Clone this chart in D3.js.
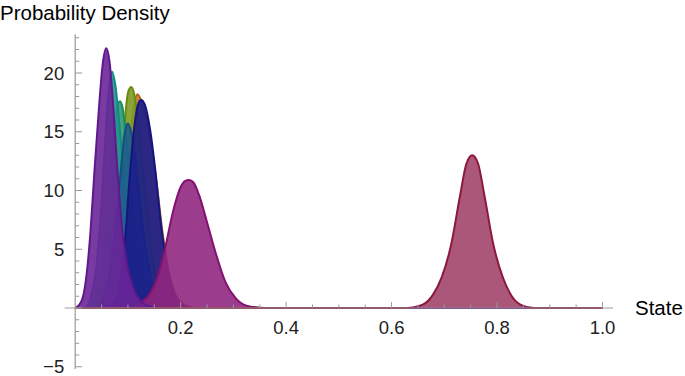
<!DOCTYPE html>
<html>
<head>
<meta charset="utf-8">
<script src="https://cdn.jsdelivr.net/npm/d3@7"></script>
<style>
  body { margin: 0; background: #fff; }
  svg { font-family: "Liberation Sans", Arial, sans-serif; }
  .tick-label { font-size: 18.5px; fill: #222; }
  .axis-title { font-size: 20.5px; fill: #000; }
</style>
</head>
<body>
<svg id="chart" width="685" height="376"></svg>
<script>
// density curves, [state, density]
var orangeCurve = [[0, 0], [0.055, 0], [0.07, 0.5], [0.08, 2], [0.09, 6], [0.1, 12], [0.108, 16], [0.118, 18.2], [0.13, 17], [0.142, 14.5], [0.152, 11.5], [0.167, 6], [0.178, 3], [0.19, 1.2], [0.207, 0.3], [0.228, 0], [1, 0]];
var oliveCurve = [[0, 0], [0.045, 0], [0.06, 0.8], [0.07, 2.5], [0.08, 6], [0.088, 11], [0.095, 16.3], [0.1, 18.3], [0.106, 18.8], [0.112, 18.2], [0.12, 15.5], [0.13, 11], [0.14, 6.5], [0.15, 3.2], [0.162, 1.2], [0.178, 0.2], [0.195, 0], [1, 0]];
var greenCurve = [[0, 0], [0.03, 0], [0.04, 0.8], [0.05, 3], [0.06, 7.5], [0.068, 12], [0.076, 16], [0.081, 17.4], [0.085, 17.6], [0.09, 17], [0.098, 14], [0.107, 9.5], [0.117, 5], [0.128, 2.2], [0.14, 0.7], [0.155, 0.1], [0.17, 0], [1, 0]];
var tealCurve = [[0, 0], [0.02, 0], [0.03, 1], [0.04, 3.5], [0.05, 9], [0.058, 15], [0.064, 18.8], [0.07, 20.1], [0.076, 19], [0.085, 15], [0.095, 9.5], [0.105, 5], [0.118, 1.8], [0.133, 0.4], [0.15, 0], [1, 0]];
var steelCurve = [[0, 0], [0.04, 0], [0.055, 1], [0.065, 3], [0.075, 6.5], [0.085, 11], [0.093, 14.6], [0.1, 15.7], [0.107, 14.8], [0.117, 11.5], [0.128, 7], [0.14, 3.3], [0.153, 1.1], [0.172, 0], [1, 0]];
var navyCurve = [[0, 0], [0.06, 0], [0.075, 0.5], [0.085, 2], [0.095, 6], [0.103, 11], [0.112, 15.4], [0.119, 17.3], [0.125, 17.7], [0.132, 17.3], [0.142, 15.2], [0.152, 11.7], [0.163, 7], [0.174, 3.6], [0.186, 1.4], [0.202, 0.3], [0.222, 0], [1, 0]];
var magentaCurve = [[0, 0], [0.1, 0], [0.12, 0.35], [0.14, 1.1], [0.155, 2.5], [0.17, 5], [0.186, 8.3], [0.2, 10.3], [0.208, 10.8], [0.216, 10.9], [0.224, 10.7], [0.235, 9.6], [0.25, 7.3], [0.267, 4.6], [0.285, 2.2], [0.305, 0.8], [0.325, 0.2], [0.35, 0.03], [0.37, 0], [1, 0]];
var purpleCurve = [[0, 0], [0.008, 0.3], [0.015, 1], [0.022, 3], [0.029, 6.5], [0.037, 12], [0.045, 17], [0.052, 20.7], [0.0587, 22.1], [0.065, 21], [0.072, 17.3], [0.08, 11.8], [0.09, 6.3], [0.1, 3.3], [0.11, 1.7], [0.125, 0.54], [0.14, 0.15], [0.16, 0], [1, 0]];
var maroonCurve = [[0, 0], [0.62, 0], [0.64, 0.05], [0.66, 0.3], [0.678, 1.1], [0.695, 2.6], [0.713, 5.4], [0.73, 9.6], [0.742, 12.3], [0.753, 13.0], [0.764, 12.3], [0.776, 9.6], [0.793, 5.4], [0.811, 2.6], [0.828, 1.0], [0.846, 0.25], [0.87, 0], [1, 0]];

var xTicks = [0.2, 0.4, 0.6, 0.8, 1.0];
var yTicks = [-5, 5, 10, 15, 20];

// back to front
var curves = [orangeCurve, oliveCurve, greenCurve, tealCurve, steelCurve, navyCurve, magentaCurve, purpleCurve, maroonCurve];
var fills = ["#c8782a", "#7e9a22", "#2c9a6e", "#23958f", "#1f5c8c", "#1b1d8a", "#902780", "#6a2598", "#a2456a"];
var strokes = ["#b0601a", "#6a8a10", "#1a8a60", "#128a86", "#12507e", "#141680", "#85106f", "#5e1a8c", "#8c1840"];

var svg = d3.select("#chart");

var x = d3.scaleLinear().domain([0, 1]).range([75.2, 602.5]);
var y = d3.scaleLinear().domain([0, 20]).range([308, 73]);

var area = d3.area()
  .x(d => x(d[0]))
  .y0(y(0))
  .y1(d => y(d[1]))
  .curve(d3.curveMonotoneX);

var line = d3.line()
  .x(d => x(d[0]))
  .y(d => y(d[1]))
  .curve(d3.curveMonotoneX);

var g = svg.append("g");

curves.forEach(function (c, i) {
  g.append("path")
    .attr("d", area(c))
    .attr("fill", fills[i])
    .attr("fill-opacity", 0.9);
  g.append("path")
    .attr("d", line(c))
    .attr("fill", "none")
    .attr("stroke", strokes[i])
    .attr("stroke-width", 2);
});

var axisColor = "#999";

// x axis
svg.append("line")
  .attr("x1", x(-0.02)).attr("x2", x(1.02))
  .attr("y1", y(0)).attr("y2", y(0))
  .attr("stroke", axisColor).attr("stroke-width", 1.2);

svg.selectAll(".xminor")
  .data(d3.range(1, 21).map(i => i * 0.05))
  .enter().append("line")
  .attr("x1", d => x(d)).attr("x2", d => x(d))
  .attr("y1", y(0)).attr("y2", d => y(0) - (Math.abs(d * 5 - Math.round(d * 5)) < 1e-6 ? 6 : 3.5))
  .attr("stroke", axisColor);

svg.selectAll(".xlabel")
  .data(xTicks)
  .enter().append("text")
  .attr("class", "tick-label")
  .attr("x", d => x(d))
  .attr("y", y(0) + 26)
  .attr("text-anchor", "middle")
  .text(d => d3.format(".1f")(d));

// y axis
svg.append("line")
  .attr("x1", x(0)).attr("x2", x(0))
  .attr("y1", y(23.3)).attr("y2", y(-5.2))
  .attr("stroke", axisColor).attr("stroke-width", 1.2);

svg.selectAll(".yminor")
  .data(d3.range(-5, 24))
  .enter().append("line")
  .attr("x1", x(0)).attr("x2", d => x(0) + (d % 5 === 0 ? 7 : 4))
  .attr("y1", d => y(d)).attr("y2", d => y(d))
  .attr("stroke", axisColor);

svg.selectAll(".ylabel")
  .data(yTicks)
  .enter().append("text")
  .attr("class", "tick-label")
  .attr("x", x(0) - 11)
  .attr("y", d => y(d))
  .attr("dy", "0.36em")
  .attr("text-anchor", "end")
  .text(d => d3.format("d")(d));

svg.append("text")
  .attr("class", "axis-title")
  .attr("x", 0)
  .attr("y", 20)
  .text("Probability Density");

svg.append("text")
  .attr("class", "axis-title")
  .attr("x", 635)
  .attr("y", y(0) + 7)
  .text("State");
</script>
</body>
</html>
